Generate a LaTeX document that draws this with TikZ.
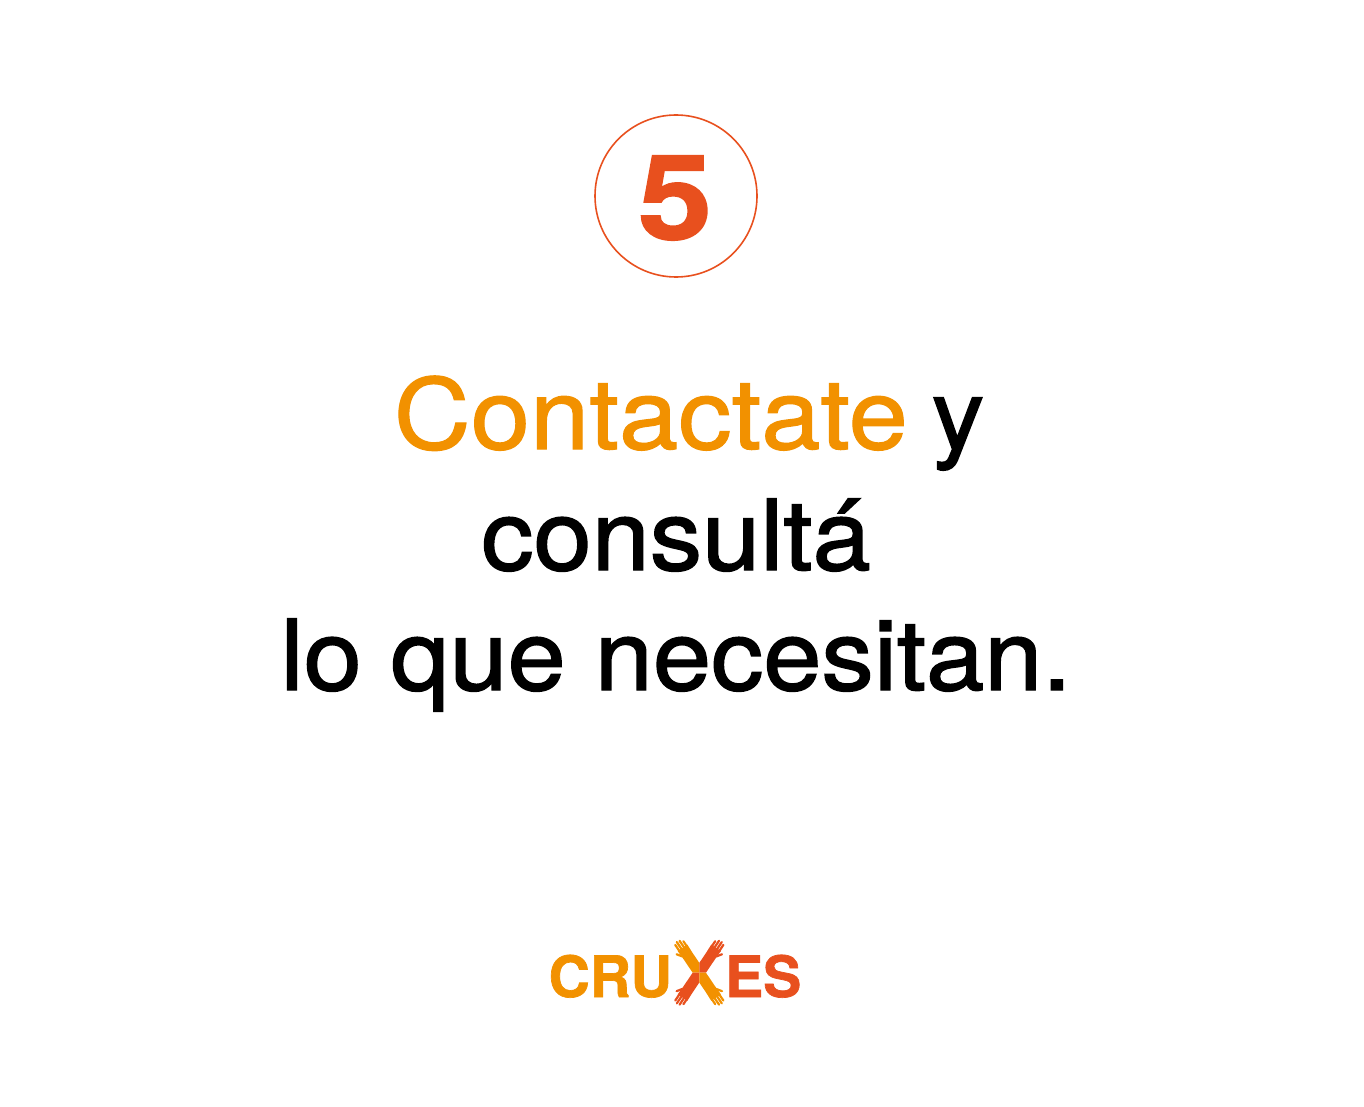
\documentclass[tikz,border=0pt]{standalone}
\usepackage{fontspec}
\usepackage{graphicx}
\setmainfont{TeX Gyre Heros}
\newfontfamily\medfont[FakeBold=1.5,FakeStretch=1.067]{TeX Gyre Heros}
\newfontfamily\thinfont[FakeBold=1.2,FakeStretch=1.088]{TeX Gyre Heros}
\newfontfamily\logofont[FakeBold=1.2]{TeX Gyre Heros Bold}
\definecolor{orangeA}{HTML}{F29100}
\definecolor{orangeB}{HTML}{E8501E}
\tikzset{
  bigtext/.style={inner sep=0pt,font=\fontsize{98}{120}\selectfont\medfont},
  logotext/.style={inner sep=0pt,font=\fontsize{57}{57}\selectfont\logofont},
  finger/.style={line width=2.2pt,line cap=round},
}
\begin{document}
\begin{tikzpicture}[x=1pt,y=-1pt]
  \useasboundingbox (0,0) rectangle (1364,1107);
  \node[circle,draw=orangeB,line width=1.6pt,minimum size=162pt,inner sep=0pt] (circ) at (676,196) {};
  \node[inner sep=0pt,text=orangeB,font=\fontsize{118}{118}\selectfont\logofont] (num) at (675,198) {\scalebox{1.13}[1]{5}};

  \node[bigtext,anchor=base] (lineA) at (689,449) {\textcolor{orangeA}{\thinfont Contactate}\kern-5pt{} y};
  \node[bigtext,anchor=base] (lineB) at (676,570) {consultá};
  \node[bigtext,anchor=base] (lineC) at (676,690) {lo que necesitan.};

  \node[logotext,anchor=base east,text=orangeA] (cru) at (672,997) {CRU};
  \node[logotext,anchor=base west,text=orangeB] (es) at (725,997) {ES};

  % crossed arms
  \coordinate (mid) at (699.3,972.7);
  \foreach \sx/\sy/\col in {1/1/orangeA,-1/1/orangeB,1/-1/orangeB,-1/-1/orangeA}{
    \begin{scope}[shift={(mid)},xscale=\sx,yscale=\sy,rotate=34]
      \fill[\col] (0,0) -- (-5.5,-3.7) -- (-5.5,-20) -- (-5.8,-30)
        -- (5.8,-30) -- (5.5,-20) -- (5.5,-8.15) -- cycle;
      \foreach \fx/\fy in {-4.4/36.5,-1.5/38,1.5/37.5,4.4/35}{
        \draw[finger,\col] (\fx,-29) -- (\fx,-\fy);
      }
      \draw[finger,\col] (-5,-23) -- (-8.5,-28);
    \end{scope}
  }
\end{tikzpicture}
\end{document}
